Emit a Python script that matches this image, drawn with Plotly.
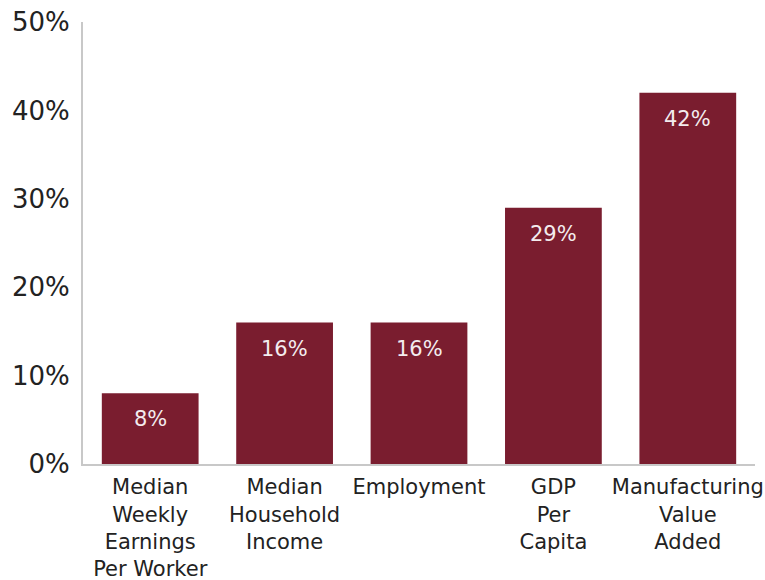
import plotly.graph_objects as go

categories = ["Median<br>Weekly<br>Earnings<br>Per Worker", "Median<br>Household<br>Income",
              "Employment", "GDP<br>Per<br>Capita", "Manufacturing<br>Value<br>Added"]
values = [8, 16, 16, 29, 42]
labels = ["8%", "16%", "16%", "29%", "42%"]
y_ticks = [0, 10, 20, 30, 40, 50]
y_ticklabels = ["0%", "10%", "20%", "30%", "40%", "50%"]

bar_color = "#7A1D2F"
font = "DejaVu Sans"

fig = go.Figure(go.Bar(x=categories, y=values, marker_color=bar_color,
                       marker_line_width=0, hoverinfo="skip"))

for c, v, t in zip(categories, values, labels):
    fig.add_annotation(x=c, y=v, text=t, showarrow=False, yanchor="top", yshift=-12,
                       font=dict(family=font, size=21, color="#F3ECEE"))

fig.update_layout(
    width=765, height=580,
    margin=dict(l=83, r=10, t=22, b=116),
    plot_bgcolor="white", paper_bgcolor="white",
    bargap=0.28, showlegend=False,
    font=dict(family=font, color="#222222"),
)
fig.update_xaxes(showline=True, linecolor="#C8C8C8", linewidth=2, ticks="",
                 automargin=False, ticklabelstandoff=3,
                 tickfont=dict(family=font, size=21, color="#222222"), range=[-0.5, 4.5],
                 fixedrange=True)
fig.update_yaxes(range=[0, 50], tickvals=y_ticks, ticktext=y_ticklabels, showgrid=False,
                 showline=True, linecolor="#C8C8C8", linewidth=2, zeroline=False, ticks="",
                 automargin=False, ticklabelstandoff=6,
                 tickfont=dict(family=font, size=26, color="#222222"))

fig.write_html("out.html")
